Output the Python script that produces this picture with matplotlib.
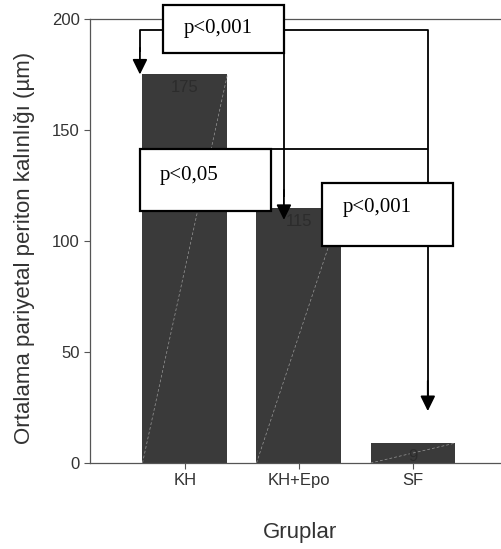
import numpy as np
import matplotlib.pyplot as plt

# Data
groups = ['KH', 'KH+Epo', 'SF']
means = [175, 115, 9]
value_labels = ['175', '115', '9']
p_texts = ['p<0,001', 'p<0,05', 'p<0,001']

plt.rcParams['font.family'] = ['Liberation Sans', 'DejaVu Sans']

fig = plt.figure(figsize=(5.01, 5.49), dpi=100)
ax = fig.add_axes([0.1796, 0.1566, 0.8204, 0.8088])

x = np.arange(len(groups))
bar_w = 0.745
ax.bar(x, means, width=bar_w, color='#3a3a3a', zorder=1)

# faint diagonal stroke inside each bar
for xi, m in zip(x, means):
  ax.plot([xi - bar_w / 2, xi + bar_w / 2], [0, m], color='#9a9a9a',
          lw=0.5, ls=(0, (4, 3)), zorder=2)

for xi, m, lab in zip(x, means, value_labels):
  ax.text(xi, m - 6, lab, ha='center', va='center', fontsize=12,
          color='#2c2c2c', zorder=2)

ax.set_xlim(-0.833, 2.772)
ax.set_ylim(0, 200)
ax.set_xticks(x)
ax.set_xticklabels(groups)
ax.set_yticks([0, 50, 100, 150, 200])

for s in ['left', 'top', 'bottom']:
  ax.spines[s].set_color('#555555')
  ax.spines[s].set_linewidth(0.9)
ax.spines['right'].set_visible(False)
ax.tick_params(axis='both', colors='#555555', labelcolor='#333333',
               labelsize=12, length=4, width=0.8)

ax.set_ylabel('Ortalama pariyetal periton kalınlığı (µm)', fontsize=16, color='#333333')
ax.set_xlabel('Gruplar', fontsize=16, color='#333333')
ax.yaxis.set_label_coords(-0.134, 0.484)
ax.xaxis.set_label_coords(0.511, -0.133)

# significance annotations
line_kw = dict(color='black', lw=1.3, clip_on=False, zorder=5, solid_capstyle='butt')
arrow_kw = dict(arrowstyle='-|>,head_length=0.65,head_width=0.32', color='black',
                lw=1.3, shrinkA=0, shrinkB=0, mutation_scale=14)

top_y = 195
mid_y = 141.4
right_x = 2.13
left_x = x[0] - 0.395
mid_x = 0.868

# box 1 -> KH and -> SF
ax.plot([-0.193, left_x, left_x], [top_y, top_y, means[0] + 10], **line_kw)
ax.annotate('', xy=(left_x, means[0]), xytext=(left_x, means[0] + 12),
            arrowprops=arrow_kw, annotation_clip=False, zorder=6)
ax.plot([mid_x, right_x, right_x], [top_y, top_y, means[2] + 20], **line_kw)
ax.annotate('', xy=(right_x, means[2] + 14.4), xytext=(right_x, means[2] + 28),
            arrowprops=arrow_kw, annotation_clip=False, zorder=6)

# box 1 -> KH+Epo
ax.plot([mid_x, mid_x], [184.7, means[1] + 5], **line_kw)
ax.annotate('', xy=(mid_x, means[1] - 5.5), xytext=(mid_x, means[1] + 8),
            arrowprops=arrow_kw, annotation_clip=False, zorder=6)

# box 2 connector
ax.plot([0.754, right_x], [mid_y, mid_y], **line_kw)

boxes = [(-0.193, 184.7, 0.868, 206.3),
         (-0.395, 113.5, 0.754, 141.4),
         (1.202, 97.7, 2.351, 126.1)]
text_pos = [(0.293, 195.5), (0.04, 129.5), (1.684, 115.3)]
for (x0, y0, x1, y1), (tx, ty), t in zip(boxes, text_pos, p_texts):
  r = plt.Rectangle((x0, y0), x1 - x0, y1 - y0, facecolor='white',
                    edgecolor='black', lw=1.6, clip_on=False, zorder=8)
  ax.add_patch(r)
  ax.text(tx, ty, t, ha='center', va='center', fontsize=15,
          family='Liberation Serif', color='black', zorder=9, clip_on=False)

fig.savefig('out.png', dpi=100)
